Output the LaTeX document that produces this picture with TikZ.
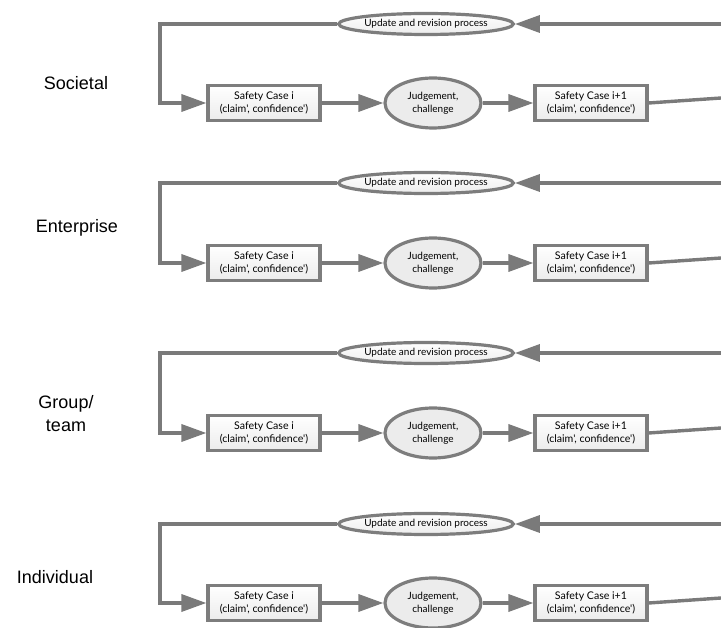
\documentclass[tikz,border=0pt]{standalone}
\usepackage{fontspec}
\setmainfont{Liberation Sans}
\newfontfamily\gillfont{Lato}
\usetikzlibrary{arrows.meta,shapes.geometric,shadings}
\definecolor{linegray}{RGB}{122,122,122}
\definecolor{boxgray}{RGB}{125,125,125}
\definecolor{fillgray}{RGB}{236,236,236}
\begin{document}
\begin{tikzpicture}[x=1pt,y=-1pt,
  conn/.style={draw=linegray,line width=3.4pt},
  arr/.style={conn,-{Triangle[length=25pt,width=17pt]}},
  casebox/.style={draw=boxgray,line width=3.2pt,top color=white,bottom color=fillgray,
    minimum width=112pt,minimum height=35pt,inner sep=0pt,align=center,
    font=\gillfont\fontsize{10.6}{12.5}\selectfont},
  judge/.style={ellipse,draw=boxgray,line width=3.2pt,fill=fillgray,
    minimum width=96pt,minimum height=50pt,inner sep=0pt,align=center,
    font=\gillfont\fontsize{10}{12.5}\selectfont},
  update/.style={ellipse,draw=boxgray,line width=3.2pt,top color=white,bottom color=fillgray,
    minimum width=158pt,minimum height=21pt,inner sep=0pt,
    font=\gillfont\fontsize{10}{12}\selectfont},
  lvl/.style={font=\fontsize{18}{23}\selectfont,align=center}
]
\useasboundingbox (0,0) rectangle (721,628);

\node[lvl] (l1) at (76,83) {Societal};
\node[lvl] (l2) at (77,228) {Enterprise};
\node[lvl] (l3) at (66,414) {Group/\\team};
\node[lvl] (l4) at (55,577) {Individual};

\foreach \r/\ye/\yb in {1/24/103, 2/183/263, 3/353/433, 4/524/603} {
  \node[update] (u\r) at (426,\ye) {Update and revision process};
  \node[casebox] (a\r) at (264,\yb) {Safety Case i\\(claim', confidence')};
  \node[judge] (j\r) at (433,\yb) {Judgement,\\challenge};
  \node[casebox] (b\r) at (591,\yb) {Safety Case i+1\\(claim', confidence')};
  \coordinate (rt\r) at (721,\ye);
  \coordinate (rb\r) at (721,\yb-5);
  \coordinate (k\r) at (160,\yb);
  \draw[arr] (u\r.west) -| (k\r) -- (a\r.west);
  \draw[arr] (a\r.east) -- (j\r.west);
  \draw[arr] (j\r.east) -- (b\r.west);
  \draw[arr] (rt\r) -- (u\r.east);
  \draw[conn] (b\r.east) -- (rb\r);
}
\end{tikzpicture}
\end{document}
